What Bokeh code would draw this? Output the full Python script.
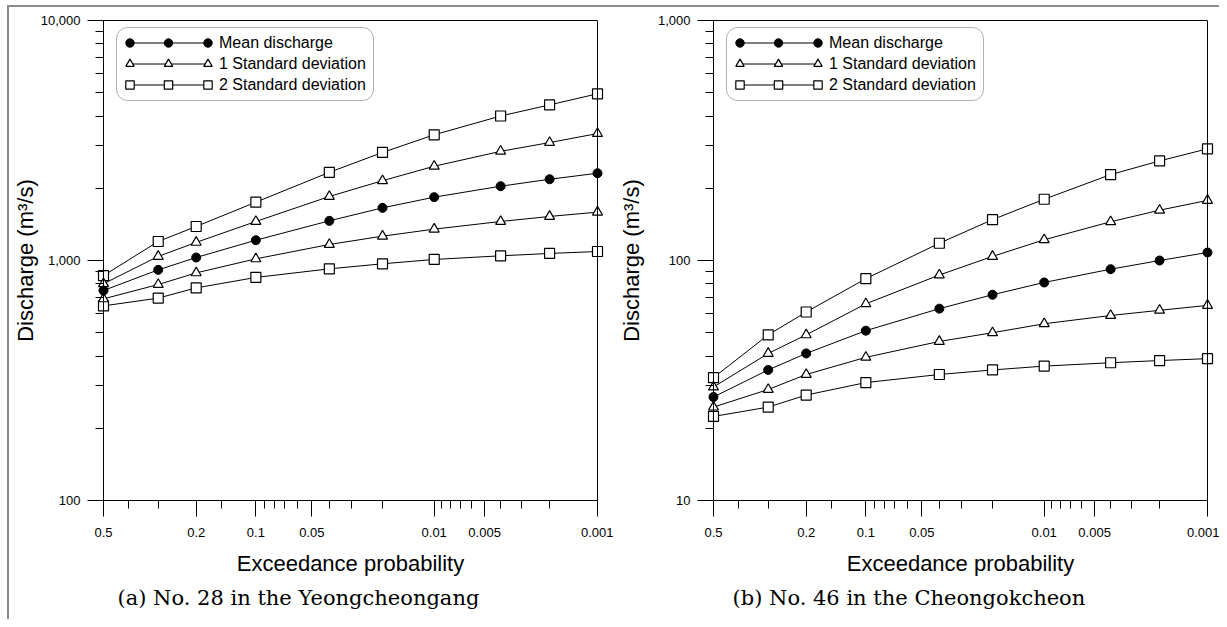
import math
from bokeh.plotting import figure
from bokeh.models import (Range1d, FixedTicker, NumeralTickFormatter, CustomJSTickFormatter,
                          Legend, LegendItem, LinearAxis, Title, BoxAnnotation, Row, Span)
from bokeh.embed import file_html
from bokeh.resources import INLINE

# ---------------- data ----------------
EXCEEDANCE_P = [0.5, 0.3, 0.2, 0.1, 0.04, 0.02, 0.01, 0.004, 0.002, 0.001]
X_MAJOR_P = [0.5, 0.2, 0.1, 0.05, 0.01, 0.005, 0.001]
X_MINOR_P = [0.4, 0.3, 0.15, 0.09, 0.08, 0.07, 0.06, 0.04, 0.03, 0.02,
             0.009, 0.008, 0.007, 0.006, 0.004, 0.003, 0.002]

# (a) No. 28 in the Yeongcheongang
A_MEAN = [750, 914, 1029, 1215, 1463, 1657, 1836, 2040, 2180, 2310]
A_SD1_UP = [800, 1040, 1190, 1454, 1848, 2150, 2470, 2850, 3100, 3380]
A_SD1_LO = [692, 794, 888, 1016, 1166, 1263, 1351, 1454, 1526, 1590]
A_SD2_UP = [865, 1200, 1386, 1750, 2330, 2820, 3340, 4000, 4450, 4950]
A_SD2_LO = [647, 697, 769, 850, 923, 969, 1010, 1046, 1070, 1090]
A_Y_MAJOR = [100, 1000, 10000]
A_Y_MINOR = [200, 300, 400, 500, 600, 700, 800, 900,
             2000, 3000, 4000, 5000, 6000, 7000, 8000, 9000]

# (b) No. 46 in the Cheongokcheon
B_MEAN = [27, 35, 41, 51, 63, 72, 81, 92, 100, 108]
B_SD1_UP = [29.7, 41, 49, 66, 87, 104, 122, 145, 162, 178]
B_SD1_LO = [24.5, 29, 33.5, 39.5, 46, 50, 54.5, 59, 62, 65]
B_SD2_UP = [32.5, 49, 61, 84, 118, 148, 180, 228, 260, 292]
B_SD2_LO = [22.4, 24.5, 27.5, 31, 33.5, 35, 36.3, 37.5, 38.3, 39]
B_Y_MAJOR = [10, 100, 1000]
B_Y_MINOR = [20, 30, 40, 50, 60, 70, 80, 90,
             200, 300, 400, 500, 600, 700, 800, 900]

SERIES_LABELS = ["Mean discharge", "1 Standard deviation", "2 Standard deviation"]
CAPTION_A = "(a) No. 28 in the Yeongcheongang"
CAPTION_B = "(b) No. 46 in the Cheongokcheon"
Y_LABEL = "Discharge (m\u00b3/s)"
X_LABEL = "Exceedance probability"

# probability-paper scale (extreme value reduced variate)
SHAPE_K = 0.03


def prob_scale(p):
    w = -math.log(1.0 - p)
    return (1.0 - w ** SHAPE_K) / SHAPE_K


FONT = "Liberation Sans"
SERIF = "DejaVu Serif"
FRAME_W, FRAME_H, PAD = 494, 480, 8


def style_axis(ax):
    ax.axis_line_color = "black"
    ax.axis_line_width = 1
    ax.major_tick_line_color = "black"
    ax.minor_tick_line_color = "black"
    ax.major_tick_in = 0
    ax.major_tick_out = 16
    ax.minor_tick_in = 0
    ax.minor_tick_out = 8
    ax.major_label_text_font = FONT
    ax.major_label_text_font_size = "13px"
    ax.major_label_text_color = "black"
    ax.major_label_standoff = 8
    ax.axis_label_text_font = FONT
    ax.axis_label_text_font_size = "22px"
    ax.axis_label_text_font_style = "normal"
    ax.axis_label_text_color = "black"


def build(series, y_lo, y_hi, y_major, y_minor, caption, ml, mr, ylab_standoff, cap_offset):
    mean, up1, lo1, up2, lo2 = series
    x0, x1 = prob_scale(X_MAJOR_P[0]), prob_scale(X_MAJOR_P[-1])
    pad = PAD * (x1 - x0) / FRAME_W
    p = figure(frame_width=FRAME_W + 2 * PAD, frame_height=FRAME_H,
               min_border_left=ml - PAD, min_border_right=mr - PAD,
               min_border_top=13, min_border_bottom=119,
               x_range=Range1d(x0 - pad, x1 + pad), y_range=Range1d(y_lo, y_hi),
               y_axis_type="log", output_backend="svg", toolbar_location=None,
               outline_line_color=None, background_fill_color="white",
               border_fill_color="white")
    p.grid.visible = False

    xs = [prob_scale(v) for v in EXCEEDANCE_P]

    xa = p.xaxis[0]
    style_axis(xa)
    xa.ticker = FixedTicker(ticks=[prob_scale(v) for v in X_MAJOR_P],
                            minor_ticks=[prob_scale(v) for v in X_MINOR_P])
    xa.formatter = CustomJSTickFormatter(args=dict(k=SHAPE_K), code="""
        const w = Math.pow(1 - k*tick, 1/k);
        const q = 1 - Math.exp(-w);
        return String(parseFloat(q.toPrecision(2)));
    """)
    xa.bounds = (x0, x1)
    xa.major_label_standoff = 11
    xa.axis_label = X_LABEL
    xa.axis_label_standoff = 11

    # y axis sits at the padded frame edge; its ticks are shifted so that they
    # meet the true axis line drawn at x0
    ya = p.yaxis[0]
    style_axis(ya)
    ya.axis_line_color = None
    ya.major_tick_out = 16 - PAD
    ya.major_tick_in = PAD
    ya.minor_tick_out = 0
    ya.minor_tick_in = PAD
    ya.major_label_standoff = 7
    ya.ticker = FixedTicker(ticks=y_major, minor_ticks=y_minor)
    ya.formatter = NumeralTickFormatter(format="0,0")
    ya.axis_label = Y_LABEL
    ya.axis_label_standoff = ylab_standoff

    top = LinearAxis(ticker=FixedTicker(ticks=[]), major_tick_line_color=None,
                     minor_tick_line_color=None, major_label_text_font_size="0px",
                     axis_line_color="black", axis_line_width=1, bounds=(x0, x1))
    p.add_layout(top, "above")
    p.add_layout(Span(location=x0, dimension="height", line_color="black", line_width=1))
    p.add_layout(Span(location=x1, dimension="height", line_color="black", line_width=1))

    # lines
    lines = {}
    for key, ys in (("up2", up2), ("up1", up1), ("mean", mean), ("lo1", lo1), ("lo2", lo2)):
        lines[key] = p.line(xs, ys, line_color="black", line_width=1)
    marks = {}
    marks["up2"] = p.scatter(xs, up2, marker="square", size=10, fill_color="white",
                             line_color="black", line_width=1.2)
    marks["lo2"] = p.scatter(xs, lo2, marker="square", size=10, fill_color="white",
                             line_color="black", line_width=1.2)
    marks["up1"] = p.scatter(xs, up1, marker="triangle", size=10, fill_color="white",
                             line_color="black", line_width=1.2)
    marks["lo1"] = p.scatter(xs, lo1, marker="triangle", size=10, fill_color="white",
                             line_color="black", line_width=1.2)
    marks["mean"] = p.scatter(xs, mean, marker="circle", size=9, fill_color="black",
                              line_color="black")

    # legend box (screen units, relative to the padded frame)
    box_kw = dict(left=21, right=278, top=FRAME_H - 7, bottom=FRAME_H - 80,
                  left_units="screen", right_units="screen", top_units="screen",
                  bottom_units="screen", fill_color="white", fill_alpha=1.0,
                  line_color="black", line_width=1, level="annotation")
    if "border_radius" in BoxAnnotation.properties():
        box_kw["border_radius"] = 11
    box = BoxAnnotation(**box_kw)
    if "editable" in BoxAnnotation.properties():
        box.editable = False
    p.add_layout(box)

    keys = ["mean", "up1", "up2"]
    gx = 34
    leg_bottom = FRAME_H - 75
    common = dict(padding=0, spacing=0, margin=0, label_height=21, glyph_height=21,
                  border_line_color=None, background_fill_alpha=0.0,
                  label_text_font=FONT, label_text_font_size="16px",
                  label_text_color="black")
    main = Legend(items=[LegendItem(label=lab, renderers=[lines[k], marks[k]])
                         for lab, k in zip(SERIES_LABELS, keys)],
                  location=(gx, leg_bottom), glyph_width=78, label_standoff=12, **common)
    p.add_layout(main)
    for dx in (-10.5, 78 - 10.5):
        side = Legend(items=[LegendItem(label="", renderers=[marks[k]]) for k in keys],
                      location=(gx + dx, leg_bottom), glyph_width=21, label_standoff=0,
                      label_width=0, **common)
        p.add_layout(side)

    p.add_layout(Title(text=caption, align="left", offset=cap_offset,
                       text_font=SERIF, text_font_size="21px", text_font_style="normal",
                       text_color="black", standoff=10), "below")
    return p


pa = build((A_MEAN, A_SD1_UP, A_SD1_LO, A_SD2_UP, A_SD2_LO), 100, 10000,
           A_Y_MAJOR, A_Y_MINOR, CAPTION_A, 94, 16, 0, 22)
pb = build((B_MEAN, B_SD1_UP, B_SD1_LO, B_SD2_UP, B_SD2_LO), 10, 1000,
           B_Y_MAJOR, B_Y_MINOR, CAPTION_B, 100, 12, 11, 27)

layout = Row(children=[pa, pb],
             styles={"margin-left": "7px", "margin-top": "5px",
                     "border-left": "2px solid #8c8c8c", "border-top": "2px solid #8c8c8c"})

open("out.html", "w").write(file_html(layout, INLINE))
